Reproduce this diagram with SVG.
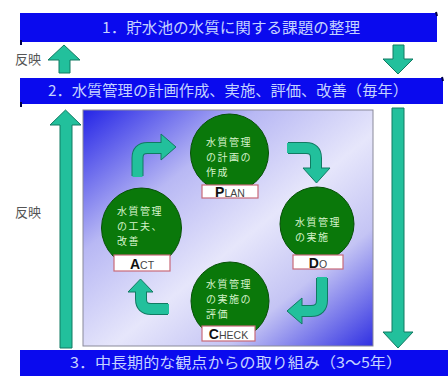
<svg xmlns="http://www.w3.org/2000/svg" width="448" height="376" viewBox="0 0 448 376">
<defs>
<linearGradient id="pg" x1="0" y1="0" x2="1" y2="1">
<stop offset="0" stop-color="#2424e6"/>
<stop offset="0.3" stop-color="#b8b8f4"/>
<stop offset="0.55" stop-color="#e6e6fb"/>
<stop offset="0.75" stop-color="#c4c4f4"/>
<stop offset="1" stop-color="#3030e2"/>
</linearGradient>
<style>
.bar{fill:#0a0aee}
.curl{fill:none;stroke:#00004a;stroke-width:2}
.bt{font-family:"Noto Sans CJK JP","Noto Sans CJK SC",sans-serif;font-size:15px;fill:#c4d2ff}
.note{font-family:"Noto Sans CJK JP","Noto Sans CJK SC",sans-serif;font-size:13px;fill:#555}
.arr{fill:#22c09c;stroke:#117a62;stroke-width:1}
.stemo{fill:none;stroke:#117a62;stroke-width:12}
.stem{fill:none;stroke:#22c09c;stroke-width:10}
.ball{fill:#0a780a;stroke:#065006;stroke-width:1}
.ct{font-family:"Noto Sans CJK JP","Noto Sans CJK SC",sans-serif;font-size:10px;letter-spacing:1.5px;fill:#d6f3cc}
.lb{fill:#ffffff;stroke:#c86a78;stroke-width:1.2}
.lt{font-family:"Liberation Sans",Arial,sans-serif;text-anchor:middle}
.big{font-size:14px;font-weight:bold;fill:#111}
.sm{font-size:10.5px;fill:#444}
</style>
</defs>

<g id="bar1">
<rect class="bar" x="20" y="13" width="417" height="29"/>
<path class="curl" d="M436,12 L437,16 M21,40 L21,45"/>
<text class="bt" x="102" y="33" textLength="258" lengthAdjust="spacingAndGlyphs">1．貯水池の水質に関する課題の整理</text>
</g>

<g id="bar2">
<rect class="bar" x="20" y="78" width="423" height="26"/>
<path class="curl" d="M442,77 L443,81 M21,102 L21,107"/>
<text class="bt" x="48" y="96" textLength="360" lengthAdjust="spacingAndGlyphs">2．水質管理の計画作成、実施、評価、改善（毎年）</text>
</g>

<g id="bar3">
<rect class="bar" x="20" y="350" width="428" height="26"/>
<text class="bt" x="70" y="368" textLength="332" lengthAdjust="spacingAndGlyphs">3．中長期的な観点からの取り組み（3～5年）</text>
</g>

<g id="panel">
<rect x="83" y="110" width="290" height="236" fill="url(#pg)" stroke="#8a8a9a" stroke-width="1"/>
</g>

<g id="connectors">
<path class="arr" d="M64,45 L80,60 L70,60 L70,73 L59,73 L59,60 L48,60 Z"/>
<path class="arr" d="M398,74 L413,59 L404,59 L404,45 L393,45 L393,59 L383,59 Z"/>
<path class="arr" d="M65.5,110 L81,125 L72,125 L72,348 L60,348 L60,125 L50,125 Z"/>
<path class="arr" d="M398,348 L413,332 L404,332 L404,108 L392,108 L392,332 L383,332 Z"/>
<text class="note" x="15" y="64">反映</text>
<text class="note" x="15" y="217">反映</text>

<path class="stemo" d="M137.5,176 L137.5,158 Q137.5,148 147.5,148 L163,148"/>
<path class="arr" d="M161,134 L176,147 L161,160 Z"/>
<path class="stem" d="M137.5,177 L137.5,158 Q137.5,148 147.5,148 L163,148"/>

<path class="stemo" d="M288,148 L306,148 Q316,148 316,158 L316,170"/>
<path class="arr" d="M303,168 L330,168 L316.5,183 Z"/>
<path class="stem" d="M287,148 L306,148 Q316,148 316,158 L316,170"/>

<path class="stemo" d="M322,278 L322,300 Q322,311 311,311 L300,311"/>
<path class="arr" d="M302,298 L287,311 L302,324 Z"/>
<path class="stem" d="M322,277 L322,300 Q322,311 311,311 L300,311"/>

<path class="stemo" d="M168,309 L151,309 Q141,309 141,299 L141,290"/>
<path class="arr" d="M128,292 L140.5,279 L153,292 Z"/>
<path class="stem" d="M169,309 L151,309 Q141,309 141,299 L141,290"/>
</g>

<g id="plan">
<circle class="ball" cx="229.5" cy="153" r="39"/>
<text class="ct" x="206" y="146">水質管理</text>
<text class="ct" x="206" y="161">の計画の</text>
<text class="ct" x="206" y="176">作成</text>
<rect class="lb" x="202" y="185" width="56" height="13"/>
<text class="lt" x="230" y="197"><tspan class="big">P</tspan><tspan class="sm">LAN</tspan></text>
</g>

<g id="do">
<circle class="ball" cx="317" cy="224" r="37"/>
<text class="ct" x="295" y="226">水質管理</text>
<text class="ct" x="295" y="241">の実施</text>
<rect class="lb" x="293" y="255" width="50" height="14"/>
<text class="lt" x="318" y="268"><tspan class="big">D</tspan><tspan class="sm">O</tspan></text>
</g>

<g id="act">
<circle class="ball" cx="141.5" cy="228" r="40"/>
<text class="ct" x="117" y="215">水質管理</text>
<text class="ct" x="117" y="230">の工夫、</text>
<text class="ct" x="117" y="245">改善</text>
<rect class="lb" x="114" y="255" width="56" height="16"/>
<text class="lt" x="142" y="269"><tspan class="big">A</tspan><tspan class="sm">CT</tspan></text>
</g>

<g id="check">
<circle class="ball" cx="230" cy="301" r="39"/>
<text class="ct" x="206" y="288">水質管理</text>
<text class="ct" x="206" y="303">の実施の</text>
<text class="ct" x="206" y="318">評価</text>
<rect class="lb" x="202" y="326" width="53" height="15"/>
<text class="lt" x="228.5" y="339"><tspan class="big">C</tspan><tspan class="sm">HECK</tspan></text>
</g>
</svg>
